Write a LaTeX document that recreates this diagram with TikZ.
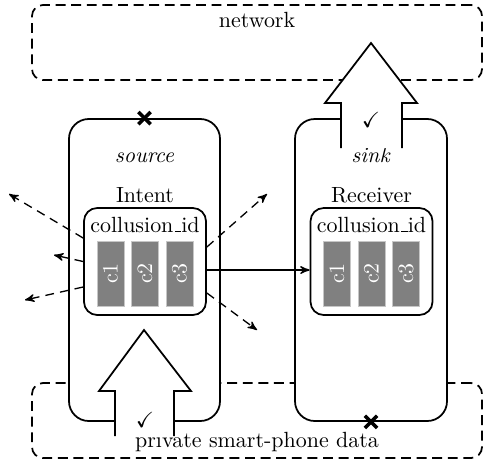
\documentclass[tikz,border=0pt]{standalone}
\usepackage{amssymb}
\usetikzlibrary{arrows}

% short underscore bar as in the OT1 fonts
\newcommand{\idbar}{\kern.06em\rule{.3em}{0.6pt}}

\begin{document}
\begin{tikzpicture}

		\tikzset{zone/.style = {draw,thick,dash pattern=on 4.5pt off 2.6pt,rounded corners=5pt,minimum width=7.2cm,minimum height=1.2cm}}
		\tikzset{app/.style = {draw,thick,fill=white,rounded corners=9pt,minimum height=4.832cm}}
		\tikzset{idbox/.style = {draw,thick,fill=white,rounded corners=6pt,minimum width=1.952cm,minimum height=1.712cm}}
		\tikzset{slot/.style = {fill=gray,draw=gray!45,text=white,rotate=90,minimum width=1.04cm,minimum height=0.432cm,inner sep=0pt}}
		\tikzset{leak/.style = {->,> = stealth',semithick,dash pattern=on 4pt off 2.8pt}}
		\tikzset{flow/.style = {->,> = stealth',semithick}}
		\tikzset{bigarrow/.style = {thick,fill=white}}
		\tikzset{cross/.style = {line width=1.6pt}}

		\useasboundingbox (0,0) rectangle (7.744,7.392);

		% zones
		\node[zone] (net) at (4.112,6.712) {};
		\node[anchor=base] (netlabel) at (4.112,6.96) {network};
		\node[zone] (data) at (4.112,0.664) {};
		\node[anchor=base] (datalabel) at (4.112,0.24) {private smart-phone data};

		% apps
		\node[app,minimum width=2.416cm] (src) at (2.312,3.072) {};
		\node[app,minimum width=2.432cm] (snk) at (5.936,3.072) {};
		\node[anchor=base] (srclabel) at (2.312,4.8) {\textit{source}};
		\node[anchor=base] (snklabel) at (5.936,4.8) {\textit{sink}};
		\node[anchor=base] (intent) at (2.32,4.16) {Intent};
		\node[anchor=base] (receiver) at (5.944,4.16) {Receiver};

		% collusion ids
		\node[idbox] (srcid) at (2.32,3.208) {};
		\node[idbox] (snkid) at (5.944,3.208) {};
		\node[anchor=base] at (2.32,3.68) {collusion\idbar id};
		\node[anchor=base] at (5.944,3.68) {collusion\idbar id};
		\node[slot] (sc1) at (1.768,3.016) {c1};
		\node[slot] (sc2) at (2.32,3.016) {c2};
		\node[slot] (sc3) at (2.872,3.016) {c3};
		\node[slot] (rc1) at (5.392,3.016) {c1};
		\node[slot] (rc2) at (5.944,3.016) {c2};
		\node[slot] (rc3) at (6.496,3.016) {c3};

		% leaks
		\coordinate (l1) at (0.144,4.288);
		\coordinate (l2) at (0.864,3.312);
		\coordinate (l3) at (0.4,2.592);
		\coordinate (r1) at (4.272,4.288);
		\coordinate (r2) at (4.112,2.112);
		\draw[leak] ([yshift=0.376cm]srcid.west) -- (l1);
		\draw[leak] (srcid.west) -- (l2);
		\draw[leak] ([yshift=-0.408cm]srcid.west) -- (l3);
		\draw[leak] ([yshift=0.232cm]srcid.east) -- (r1);
		\draw[leak] ([yshift=-0.504cm]srcid.east) -- (r2);
		\draw[flow] ([yshift=-0.136cm]srcid.east) -- ([yshift=-0.136cm]snkid.west);

		% big arrows, open at the bottom
		\draw[bigarrow] (1.84,0.416) -- (1.84,1.136) -- (1.584,1.136) -- (2.304,2.112)
			-- (3.056,1.136) -- (2.784,1.136) -- (2.784,0.416);
		\draw[bigarrow] (5.456,5.024) -- (5.456,5.744) -- (5.2,5.744) -- (5.936,6.704)
			-- (6.672,5.744) -- (6.432,5.744) -- (6.432,5.024);
		\node (srcok) at (2.32,0.672) {$\checkmark$};
		\node (snkok) at (5.936,5.472) {$\checkmark$};

		% blocked
		\draw[cross] ([shift={(-2.8pt,-2.8pt)}]src.north) -- ([shift={(2.8pt,2.8pt)}]src.north);
		\draw[cross] ([shift={(-2.8pt,2.8pt)}]src.north) -- ([shift={(2.8pt,-2.8pt)}]src.north);
		\draw[cross] ([shift={(-2.8pt,-2.8pt)}]snk.south) -- ([shift={(2.8pt,2.8pt)}]snk.south);
		\draw[cross] ([shift={(-2.8pt,2.8pt)}]snk.south) -- ([shift={(2.8pt,-2.8pt)}]snk.south);
\end{tikzpicture}
\end{document}
